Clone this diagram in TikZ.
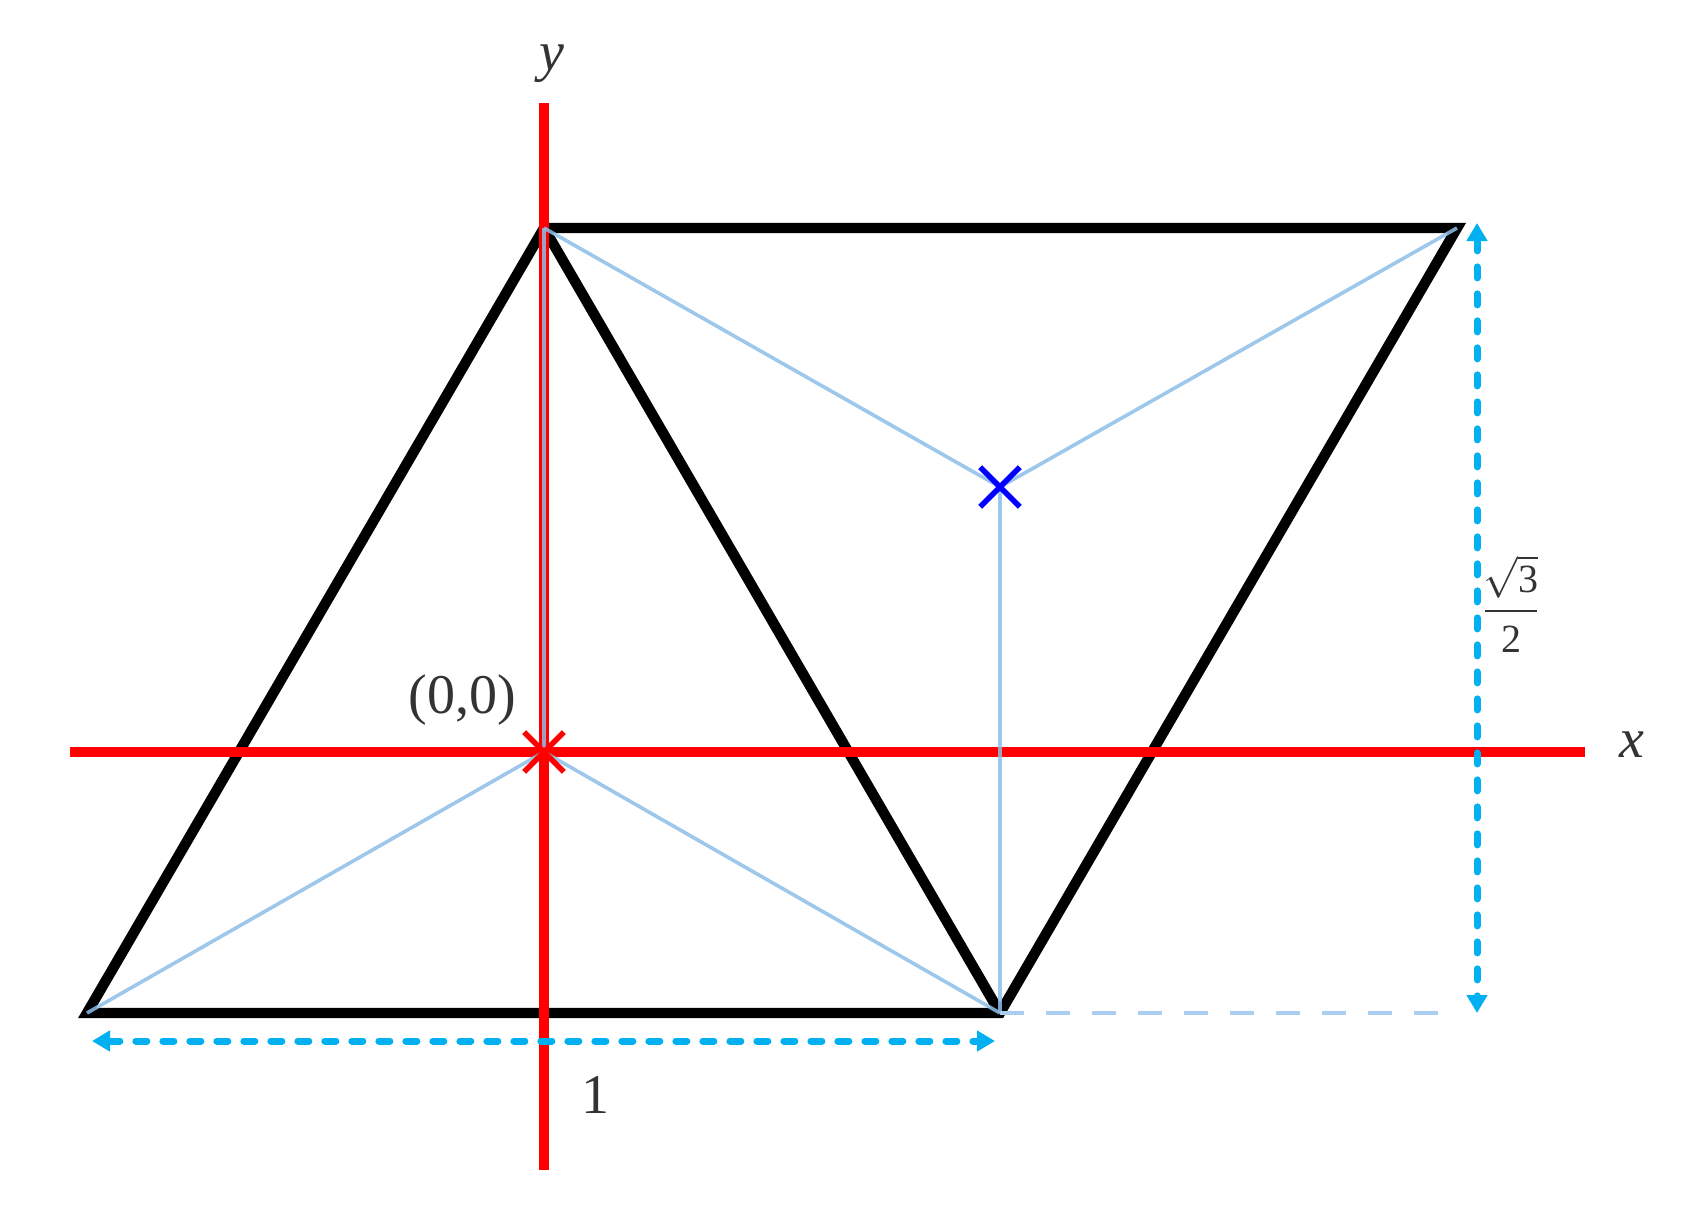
\documentclass[tikz,border=0pt]{standalone}
\usepackage{fontspec}
\setmainfont{Liberation Serif}
\newfontfamily\lbfont{Liberation Serif}
\usetikzlibrary{arrows.meta,shapes.misc}
\definecolor{axisred}{RGB}{255,0,0}
\definecolor{thinblue}{RGB}{140,190,232}
\definecolor{guideblue}{RGB}{170,205,240}
\definecolor{dimcyan}{RGB}{0,176,240}
\definecolor{crossblue}{RGB}{0,0,255}
\begin{document}
\begin{tikzpicture}[x=0.5pt,y=-0.5pt,
  edge/.style={line width=5.2pt, black, line join=miter},
  axis/.style={line width=4.6pt, axisred},
  thinline/.style={line width=1.8pt, thinblue, opacity=0.85},
  dimline/.style={line width=3.5pt, dimcyan, line cap=round, dash pattern=on 5.5pt off 8pt,
     {Triangle[length=9pt,width=10pt]}-{Triangle[length=9pt,width=10pt]}},
  guide/.style={line width=2pt, guideblue, dash pattern=on 12pt off 11pt},
  lbl/.style={font=\lbfont\fontsize{28}{32}\selectfont, text=black!80, inner sep=0pt},
  fraclbl/.style={font=\lbfont\fontsize{20}{22}\selectfont, text=black!80, inner sep=0pt, align=center},
  xmarker/.style={cross out, inner sep=0pt, minimum size=17pt}]
\useasboundingbox (0,0) rectangle (1695,1231);
% vertices
\coordinate (O) at (544,752);
\coordinate (A) at (544,228);
\coordinate (B) at (87,1013);
\coordinate (C) at (1000,1013);
\coordinate (D) at (1457,228);
\coordinate (Gc) at (1000,487);
% axes end points
\coordinate (xl) at (70,752);
\coordinate (xr) at (1585,752);
\coordinate (yt) at (544,103);
\coordinate (yb) at (544,1170);
% dimension ends
\coordinate (h1) at (92,1041);
\coordinate (h2) at (995,1041);
\coordinate (v1) at (1477,223);
\coordinate (v2) at (1477,1013);
\coordinate (gend) at (1438,1013);
% black parallelogram with diagonal
\draw[edge] (B) -- (A) -- (D) -- (C) -- cycle;
\draw[edge] (A) -- (C);
% red axes
\draw[axis] (xl) -- (xr);
\draw[axis] (yt) -- (yb);
% thin light-blue lines
\draw[thinline] (O) -- (A);
\draw[thinline] (O) -- (B);
\draw[thinline] (O) -- (C);
\draw[thinline] (Gc) -- (A);
\draw[thinline] (Gc) -- (C);
\draw[thinline] (Gc) -- (D);
% guide and dimension arrows
\draw[guide] (C) -- (gend);
\draw[dimline] (h1) -- (h2);
\draw[dimline] (v1) -- (v2);
% marks
\node[xmarker, draw=axisred, line width=2.8pt] (om) at (O) {};
\node[xmarker, draw=crossblue, line width=2.8pt] (gm) at (Gc) {};
% labels
\node[lbl] (lo) at (462,700) {(0,0)};
\node[lbl] (ly) at (552,64) {\textit{y}};
\node[lbl] (lx) at (1632,745) {\textit{x}};
\node[lbl] (l1) at (595,1095) {1};
\node[fraclbl] (lf) at (1511,604) {$\sqrt{\mbox{\lbfont 3}}$\\[-12pt]\rule{26pt}{1.4pt}\\[-2pt]2};
\end{tikzpicture}
\end{document}
